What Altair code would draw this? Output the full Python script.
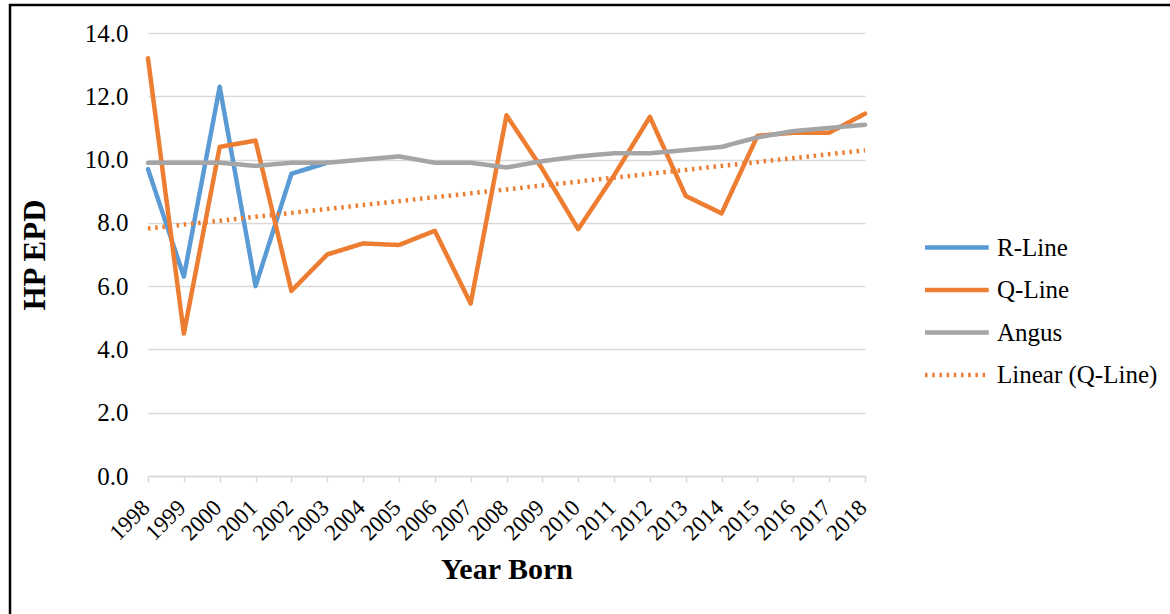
import altair as alt
import pandas as pd

# ---- data ----
years = list(range(1998, 2019))
r_line = [9.7, 6.3, 12.3, 6.0, 9.55, 9.9]
q_line = [13.2, 4.5, 10.4, 10.6, 5.85, 7.0, 7.35, 7.3, 7.75, 5.45, 11.4,
          9.7, 7.8, 9.5, 11.35, 8.85, 8.3, 10.75, 10.85, 10.85, 11.45]
angus = [9.9, 9.9, 9.9, 9.8, 9.9, 9.9, 10.0, 10.1, 9.9, 9.9, 9.75,
         9.95, 10.1, 10.2, 10.2, 10.3, 10.4, 10.7, 10.9, 11.0, 11.1]
y_ticks = [0, 2, 4, 6, 8, 10, 12, 14]

series_names = ["R-Line", "Q-Line", "Angus", "Linear (Q-Line)"]
series_colors = ["#5B9BD5", "#ED7D31", "#A5A5A5", "#ED7D31"]
series_dash = [[1, 0], [1, 0], [1, 0], [2.5, 4.7]]
series_width = [4.5, 4.5, 4.5, 3.2]

rows = []
for name, vals in [("R-Line", r_line), ("Q-Line", q_line), ("Angus", angus)]:
    for yr, v in zip(years, vals):
        rows.append({"year": yr, "value": v, "series": name})
df = pd.DataFrame(rows)

FONT = "Liberation Serif"
PLOT_W, PLOT_H = 717, 443
PAD = {"left": 148, "top": 33, "right": 1170 - 148 - 717, "bottom": 614 - 33 - 443}

half_ticks = [years[0] + i / 2 for i in range(2 * (len(years) - 1) + 1)]

x_enc = alt.X(
    "year:Q",
    scale=alt.Scale(domain=[years[0], years[-1]], nice=False, zero=False),
    axis=alt.Axis(
        title="Year Born", values=half_ticks, format="d",
        labelExpr="datum.value % 1 == 0 ? datum.label : ''",
        labelAngle=-45, labelAlign="right", labelBaseline="top",
        labelPadding=14, labelOffset=-10, labelOverlap=False, labelFlush=False,
        grid=False, domainColor="#D9D9D9", domainWidth=1.5,
        tickColor="#D9D9D9", tickWidth=1.5, tickSize=6,
        labelFontSize=23, titleFontSize=30, titleFontWeight="bold",
        titleY=102, titleBaseline="alphabetic",
    ),
)
y_enc = alt.Y(
    "value:Q",
    scale=alt.Scale(domain=[0, 14], nice=False),
    axis=alt.Axis(
        title="HP EPD", values=y_ticks, format=".1f",
        grid=True, gridColor="#D9D9D9", gridWidth=1.5,
        domain=False, ticks=False, labelPadding=20,
        labelFontSize=25, titleFontSize=31, titleFontWeight="bold",
        titleX=-104, titleBaseline="alphabetic",
    ),
)
legend = alt.Legend(
    title=None, orient="none", legendX=773, legendY=202,
    symbolType="M-1,0H6.5", symbolSize=289, labelOffset=51, rowPadding=16.5,
    labelFontSize=25, labelFont=FONT, labelColor="black", labelLimit=400,
)
color_enc = alt.Color("series:N", scale=alt.Scale(domain=series_names, range=series_colors), legend=legend)
dash_enc = alt.StrokeDash("series:N", scale=alt.Scale(domain=series_names, range=series_dash), legend=legend)
width_enc = alt.StrokeWidth("series:N", scale=alt.Scale(domain=series_names, range=series_width), legend=legend)

base = alt.Chart(df)


def series_layer(name):
    return base.transform_filter(alt.datum.series == name).mark_line(
        strokeJoin="round", strokeCap="round"
    ).encode(x=x_enc, y=y_enc, color=color_enc, strokeDash=dash_enc, strokeWidth=width_enc)


trend = base.transform_filter(alt.datum.series == "Q-Line").transform_regression(
    "year", "value", extent=[years[0], years[-1]]
).transform_calculate(series="'Linear (Q-Line)'").mark_line().encode(
    x=x_enc, y=y_enc, color=color_enc, strokeDash=dash_enc, strokeWidth=width_enc
)

border = alt.Chart(pd.DataFrame({"k": [0]})).mark_rect(
    filled=False, stroke="black", strokeWidth=2.5
).encode(x=alt.value(-138), x2=alt.value(1300), y=alt.value(-28), y2=alt.value(800))

chart = alt.layer(
    series_layer("R-Line"), series_layer("Q-Line"), series_layer("Angus"), trend, border
).properties(
    width=PLOT_W, height=PLOT_H,
    autosize=alt.AutoSizeParams(type="none"),
    padding=PAD, background="white",
).configure_view(stroke="transparent").configure_axis(
    labelFont=FONT, titleFont=FONT, labelColor="black", titleColor="black"
)

chart.save("out.html", embed_options={"renderer": "svg", "actions": False})
